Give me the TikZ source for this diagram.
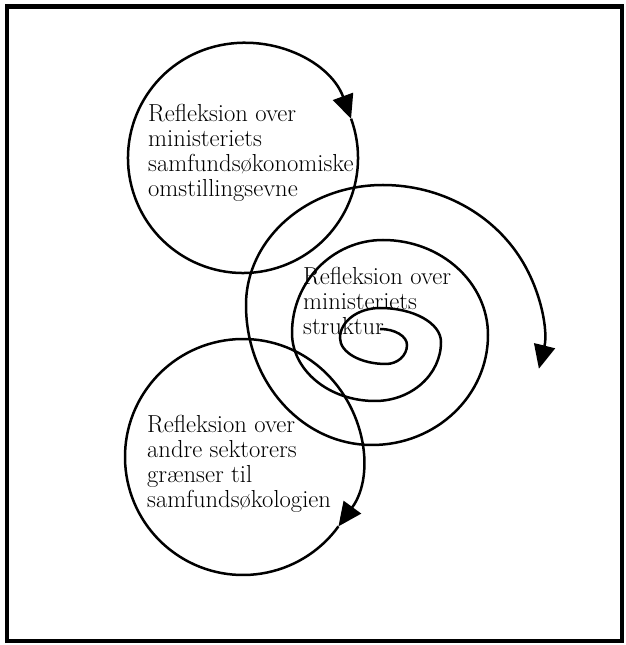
\documentclass[tikz,border=0pt]{standalone}
\usepackage{fontspec}
\usetikzlibrary{arrows.meta}
\begin{document}
\begin{tikzpicture}[x=0.4mm,y=0.4mm,
  flow/.style={line width=1mm,-{Triangle[length=9.5mm,width=8.5mm]}},
  reftext/.style={anchor=base west,align=left,inner sep=0pt,
    font=\fontsize{28pt}{28.5pt}\selectfont}]
  \useasboundingbox (0,0) rectangle (626,645);
  \draw[line width=1.8mm] (7,4) rectangle (622,638.5);
  % the two outer rings
  \coordinate (topC) at (243,487);
  \coordinate (botC) at (243,188);
  \draw[flow] ([shift={(20:115)}]topC) arc[start angle=20,end angle=-340,radius=115];
  \draw[flow] ([shift={(-36:118)}]botC) arc[start angle=-36,end angle=-396,radius=118];
  % spiral, from the inside out
  \draw[flow] (380,316)
    arc[start angle=90,end angle=0,x radius=27,y radius=16]
    arc[start angle=0,end angle=-90,x radius=21,y radius=19]
    arc[start angle=-90,end angle=-180,x radius=46,y radius=26]
    arc[start angle=180,end angle=90,x radius=40,y radius=30]
    arc[start angle=90,end angle=0,x radius=61,y radius=34]
    arc[start angle=0,end angle=-90,x radius=66,y radius=59]
    arc[start angle=-90,end angle=-180,x radius=83,y radius=68]
    arc[start angle=180,end angle=90,x radius=91,y radius=93]
    arc[start angle=90,end angle=0,x radius=105,y radius=95]
    arc[start angle=0,end angle=-90,x radius=116,y radius=110]
    arc[start angle=-90,end angle=-180,x radius=126,y radius=140]
    arc[start angle=180,end angle=90,x radius=137,y radius=120]
    arc[start angle=90,end angle=-13,x radius=160,y radius=150];
  % text nodes sit on the baseline of their last line
  \node[reftext] (topText) at (148,448)
    {Refleksion over\\ministeriets\\samfundsøkonomiske\\omstillingsevne};
  \node[reftext] (midText) at (303,310)
    {Refleksion over\\ministeriets\\struktur};
  \node[reftext] (botText) at (147,137)
    {Refleksion over\\andre sektorers\\grænser til\\samfundsøkologien};
\end{tikzpicture}
\end{document}
